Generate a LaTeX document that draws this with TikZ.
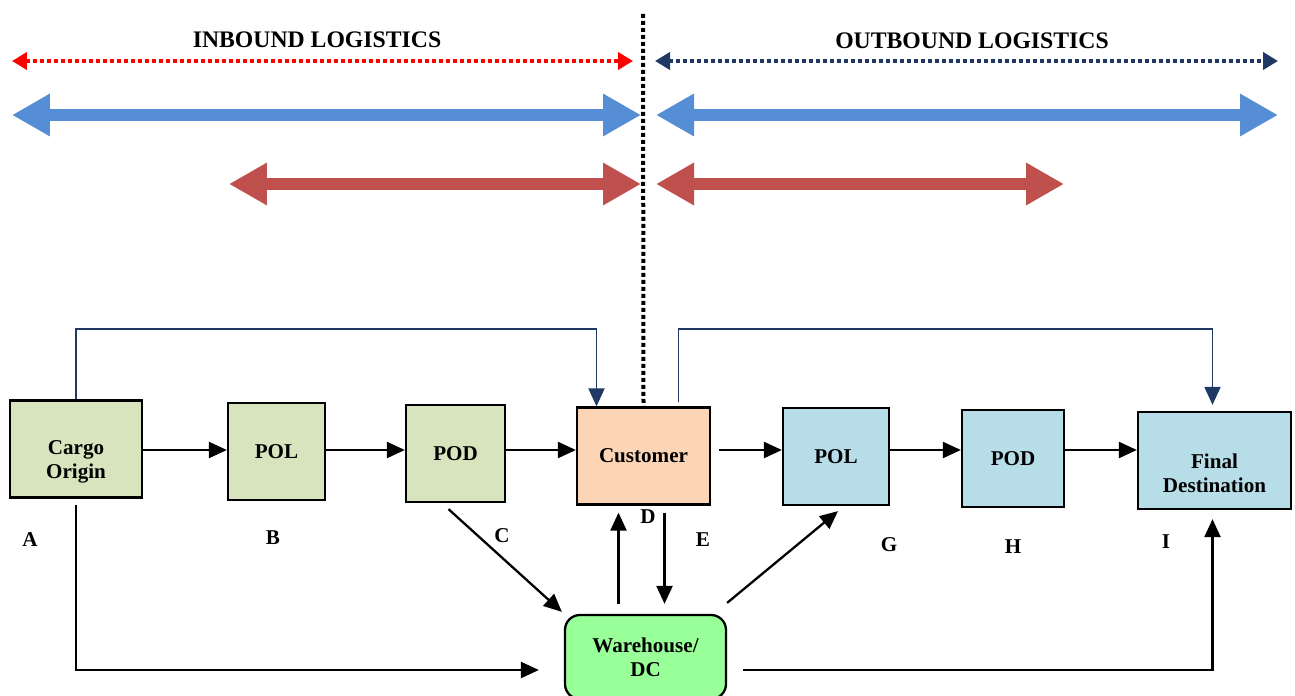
\documentclass[tikz,border=0pt]{standalone}
\usepackage{fontspec}
\setmainfont{Liberation Serif}
\usetikzlibrary{arrows.meta,positioning,calc}

\definecolor{boxolive}{HTML}{D7E4BD}
\definecolor{boxpeach}{HTML}{FBD5B5}
\definecolor{boxaqua}{HTML}{B7DEE8}
\definecolor{boxmint}{HTML}{99FF99}
\definecolor{bandblue}{HTML}{558ED5}
\definecolor{bandred}{HTML}{C0504D}
\definecolor{navyline}{HTML}{1F3864}

\begin{document}
\begin{tikzpicture}[
    x=0.02cm, y=-0.02cm,
    font=\fontsize{12}{13.6}\selectfont\bfseries,
    box/.style={draw, line width=1.3pt, align=center, minimum height=1.94cm},
    wbox/.style={draw, line width=1.3pt, align=center, rounded corners=8.5pt, minimum width=3.22cm, minimum height=1.68cm},
    flow/.style={-{Triangle[length=0.36cm, width=0.32cm]}, line width=1.3pt},
    navyflow/.style={-{Triangle[length=0.36cm, width=0.32cm]}, line width=1.1pt, draw=navyline},
    band/.style={{Triangle[length=0.76cm, width=0.8cm]}-{Triangle[length=0.76cm, width=0.8cm]}, line width=0.26cm},
    dotband/.style={{Triangle[length=0.3cm, width=0.34cm]}-{Triangle[length=0.3cm, width=0.34cm]}, line width=0.08cm, dash pattern=on 0.08cm off 0.06cm},
    title/.style={font=\fontsize{13.5}{15}\selectfont\bfseries}
]
\useasboundingbox (0,0) rectangle (1295,696);

% boxes
\node[box, fill=boxolive, minimum width=2.64cm] (origin) at (76,449) {};
\node[align=center] (origintxt) at (76,462) {Cargo\\Origin};
\node[box, fill=boxolive, minimum width=1.94cm] (pol1) at (276.5,451.5) {POL};
\node[box, fill=boxolive, minimum width=1.98cm] (pod1) at (455.5,453.5) {POD};
\node[box, fill=boxpeach, minimum width=2.66cm] (cust) at (643.5,456) {Customer};
\node[box, fill=boxaqua, minimum width=2.12cm] (pol2) at (836,456.5) {POL};
\node[box, fill=boxaqua, minimum width=2.04cm] (pod2) at (1013,458.5) {POD};
\node[box, fill=boxaqua, minimum width=3.06cm] (dest) at (1214.5,460.5) {};
\node[align=center] (desttxt) at (1214.5,473.5) {Final\\Destination};
\node[wbox, fill=boxmint] (wh) at (645.5,657) {Warehouse/\\DC};

% stage letters
\node (la) at (30,540) {A};
\node (lb) at (273,538) {B};
\node (lc) at (502,536) {C};
\node (ld) at (648,517) {D};
\node (le) at (703,540) {E};
\node (lg) at (889,545) {G};
\node (lh) at (1013,547) {H};
\node (li) at (1166,542) {I};

% titles and bands
\node[title] (intitle) at (317,40) {INBOUND LOGISTICS};
\node[title] (outtitle) at (972,41) {OUTBOUND LOGISTICS};
\coordinate (divtop) at (643,14);
\coordinate (inL) at (12,61);
\coordinate (inR) at (633,61);
\coordinate (outL) at (655,61);
\coordinate (outR) at (1278,61);
\coordinate (bInL) at (12,115);
\coordinate (bInR) at (641,115);
\coordinate (bOutL) at (656,115);
\coordinate (bOutR) at (1278,115);
\coordinate (rInL) at (229,184);
\coordinate (rInR) at (641,184);
\coordinate (rOutL) at (656,184);
\coordinate (rOutR) at (1064,184);
\coordinate (row) at (0,450);

\draw[line width=0.08cm, dash pattern=on 0.08cm off 0.06cm] (divtop) -- (cust.north);
\draw[dotband, red] (inL) -- (inR);
\draw[dotband, navyline] (outL) -- (outR);
\draw[band, bandblue] (bInL) -- (bInR);
\draw[band, bandblue] (bOutL) -- (bOutR);
\draw[band, bandred] (rInL) -- (rInR);
\draw[band, bandred] (rOutL) -- (rOutR);

% main flow
\draw[flow] (origin.east |- row) -- (pol1.west |- row);
\draw[flow] (pol1.east |- row) -- (pod1.west |- row);
\draw[flow] (pod1.east |- row) -- (cust.west |- row);
\draw[flow, shorten <=0.16cm] (cust.east |- row) -- (pol2.west |- row);
\draw[flow] (pol2.east |- row) -- (pod2.west |- row);
\draw[flow] (pod2.east |- row) -- (dest.west |- row);

% direct shipments
\draw[navyflow] (origin.north) |- ($(cust.north)+(-47,-77)$) -- ($(cust.north)+(-47,0)$);
\draw[navyflow] ($(cust.north)+(35,-4)$) |- ($(dest.north)+(-2,-82)$) -- ($(dest.north)+(-2,-6)$);

% via warehouse
\draw[flow] ($(origin.south)+(0,6)$) |- ($(wh.west)+(-25,13)$);
\draw[flow] ($(pod1.south)+(-7,6)$) -- ($(wh.north west)+(-2,-2)$);
\draw[flow] ($(wh.north)+(-27,-10)$) -- ($(cust.south)+(-25,7)$);
\draw[flow] ($(cust.south)+(21,7)$) -- ($(wh.north)+(19,-10)$);
\draw[flow] ($(wh.north east)+(0,-11)$) -- ($(pol2.south)+(2,5)$);
\draw[flow] ($(wh.east)+(16,13)$) -| ($(dest.south)+(-2,9)$);
\end{tikzpicture}
\end{document}
